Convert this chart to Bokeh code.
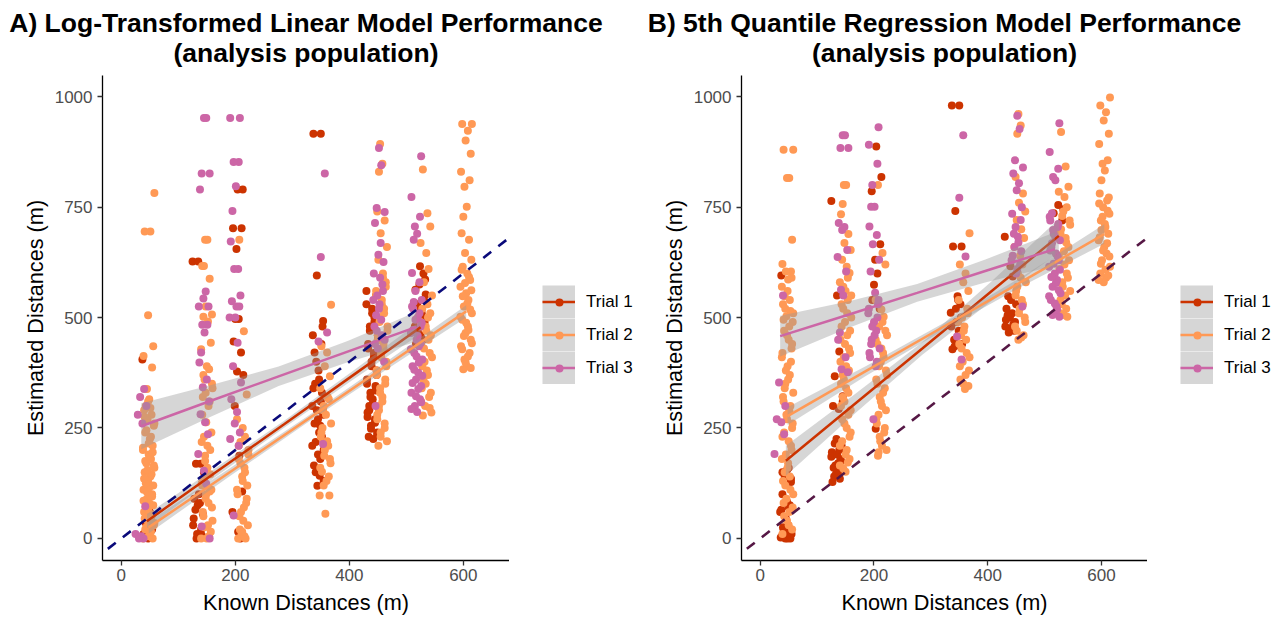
from bokeh.plotting import figure
from bokeh.models import Legend, LegendItem, Slope, Range1d
from bokeh.core.properties import value
from bokeh.layouts import row, column
from bokeh.embed import file_html
from bokeh.resources import INLINE

FONT = "Liberation Sans"
NAN = float("nan")
TRIALS = ["Trial 1", "Trial 2", "Trial 3"]
COLORS = ["#CC3300", "#FF9955", "#CC66A6"]
X_TICKS = [0, 200, 400, 600]
Y_TICKS = [0, 250, 500, 750, 1000]

# known distances (m) at which each trial was measured
KNOWN_T1 = [45, 135, 205, 345, 440, 525]
KNOWN_T2 = [48, 150, 213, 358, 457, 535, 605]
KNOWN_T3 = [35, 145, 200, 352, 452, 518]

# ---------------- Panel A: estimated distances (one list per known distance)
A_T1 = [
    [405, 60, 35, 20, 10, 0],
    [627, 627, 169, 169, 150, 90, 80, 75, 55, 30, 7, 0, 100, 65, 45, 20, 10],
    [790, 790, 702, 702, 655, 497, 497, 446, 421, 378, 370, 300, 187, 106, 60, 15, 0],
    [916, 916, 595, 492, 421, 360, 330, 300, 270, 255, 218, 200, 165, 142, 119,
     480, 460, 440, 400, 380, 350, 340, 310, 290, 280, 260, 240, 230, 210, 190, 180, 150, 130],
    [560, 520, 500, 480, 460, 440, 420, 400, 380, 360, 345, 330, 315, 300, 285, 270, 255, 240, 230, 225,
     550, 530, 510, 490, 470, 450, 430, 410, 390, 370, 350, 335, 320, 305, 290, 275, 262, 248, 235],
    [616, 586, 563, 540, 520, 500, 470, 440, 600, 575, 552, 530, 510, 490, 480, 460, 450],
]
A_T2 = [
    [782, 695, 695, 505, 435, 413, 387, 338, 315, 300, 290, 280, 270, 255, 240, 225, 210, 200, 190,
     180, 170, 160, 150, 140, 130, 120, 110, 100, 90, 80, 70, 60, 50, 40, 30, 20, 10, 0, 0,
     5, 15, 25, 35, 45, 55, 65, 75, 85, 95, 105, 115, 125, 135, 145, 155, 165, 175, 185, 195,
     205, 215, 230, 245, 260, 275, 295, 310],
    [676, 676, 617, 617, 588, 525, 507, 502, 491, 443, 428, 390, 383, 360, 340, 320, 300, 263, 240,
     218, 200, 187, 160, 135, 120, 106, 90, 70, 50, 30, 15, 0, 0,
     5, 25, 40, 60, 80, 100, 110, 125, 145, 175, 210, 230, 280, 310, 330, 350, 370],
    [676, 469, 326, 270, 250, 230, 218, 200, 180, 160, 140, 120, 100, 80, 60, 40, 20, 0, 0,
     10, 30, 50, 70, 90, 110, 130, 150, 170, 190, 210, 5, 15],
    [529, 435, 421, 390, 367, 340, 315, 300, 280, 250, 230, 210, 187, 170, 151, 130, 97, 97, 56,
     320, 290, 260, 240, 220, 200, 180, 160, 140, 120],
    [893, 848, 830, 740, 720, 691, 660, 631, 600, 580, 560, 540, 520, 500, 480, 460, 440, 420, 400,
     380, 360, 340, 320, 300, 280, 260, 240, 220, 210,
     590, 570, 550, 530, 510, 490, 470, 450, 430, 410, 390, 370, 350, 330, 310, 290, 270, 250, 230],
    [835, 736, 706, 669, 646, 610, 580, 550, 520, 500, 480, 460, 440, 420, 400, 380, 360, 340, 320,
     300, 285, 278, 530, 510, 490, 470, 450, 430, 410, 390, 370, 350, 330, 310, 295],
    [938, 938, 923, 901, 871, 830, 811, 796, 751, 728, 691, 676, 646, 631, 615, 600, 585, 570, 555,
     540, 525, 510, 495, 480, 465, 450, 435, 420, 405, 390, 383,
     608, 592, 578, 562, 548, 532, 518, 502, 488, 472, 458, 442, 428, 412, 398, 386],
]
A_T3 = [
    [338, 320, 300, 280, 260, 73, 10, 5, 0, 0],
    [952, 952, 826, 826, 790, 559, 543, 525, 525, 484, 484, 466, 421, 398, 360, 342, 310, 281, 263,
     236, 191, 153, 124, 27, 0],
    [952, 952, 852, 852, 797, 741, 672, 610, 610, 550, 537, 525, 525, 500, 500, 443, 390, 353, 315,
     286, 260, 240, 225, 210, 52],
    [826, 637, 466, 446, 214],
    [884, 845, 748, 739, 714, 669, 642, 626, 600, 575, 550, 530, 505, 480, 460, 430, 400, 300,
     590, 560, 540, 520, 495, 470, 450, 440],
    [865, 773, 728, 706, 690, 676, 601, 580, 560, 540, 520, 500, 480, 465, 450, 435, 420, 405, 390,
     375, 360, 345, 330, 315, 300, 286,
     535, 525, 510, 495, 488, 472, 458, 442, 428, 412, 398, 382, 368, 352, 338, 322, 308, 293],
]

# ---------------- Panel B
B_T1 = [
    [595, 160, 140, 128, 100, 83, 75, 60, 45, 30, 20, 10, 5, 0, 0, 0,
     2, 8, 12, 18, 25, 65, 70, 80, 135, 150, 155],
    [764, 550, 423, 367, 322, 300, 293, 225, 210, 195, 180, 165, 150, 140, 128,
     135, 145, 155, 160, 170, 175, 185, 190, 200, 215, 310],
    [887, 818, 786, 666, 631, 600, 574, 540, 520, 248],
    [980, 980, 741, 661, 661, 548, 530, 511, 490, 470, 450, 440, 428, 540, 520, 500, 480, 460, 435],
    [683, 616, 593, 548, 530, 520, 510, 500, 490, 480, 470, 466, 540, 505, 495, 485, 475],
    [755, 745, 736, 720, 700],
]
B_T2 = [
    [880, 880, 816, 816, 676, 621, 604, 604, 586, 548, 530, 515, 503, 490, 470, 450, 430, 410, 390,
     370, 350, 330, 310, 290, 270, 250, 230, 210, 190, 170, 150, 130, 110, 90, 70, 50, 30,
     590, 570, 560, 540, 520, 510, 495, 480, 460, 440, 420, 400, 380, 360, 340, 320, 300, 280,
     260, 240, 220, 200, 180, 160, 140, 120, 100, 80, 60, 40, 20, 10],
    [800, 800, 757, 734, 689, 669, 653, 631, 615, 601, 580, 560, 540, 520, 500, 480, 460, 440, 420,
     400, 380, 360, 340, 320, 300, 280, 260, 240, 220, 200, 180, 165, 151,
     590, 570, 550, 530, 510, 490, 470, 450, 430, 410, 390, 370, 350, 330, 310, 290, 270, 250,
     230, 210, 190, 172, 158],
    [800, 646, 620, 540, 518, 502, 480, 460, 440, 420, 400, 380, 360, 340, 320, 300, 280, 260, 240,
     220, 200, 187, 490, 470, 450, 430, 410, 390, 370, 350, 330, 310, 290, 270, 250, 230, 210, 195],
    [691, 620, 600, 580, 560, 540, 520, 500, 480, 460, 440, 420, 400, 380, 360, 338,
     510, 490, 470, 450, 430, 410, 390, 370, 350, 345],
    [961, 935, 916, 818, 781, 760, 740, 721, 700, 680, 660, 640, 620, 600, 580, 560, 540, 520, 500,
     480, 460, 450, 590, 570, 550, 530, 510, 490, 470, 455],
    [920, 842, 796, 785, 773, 750, 730, 710, 690, 670, 650, 630, 610, 590, 570, 550, 530, 510, 502,
     740, 720, 700, 680, 660, 640, 620, 600, 580, 560, 540, 520, 506],
    [998, 980, 965, 946, 916, 893, 856, 848, 833, 811, 781, 765, 750, 735, 720, 705, 690, 675, 660,
     645, 630, 615, 600, 590, 580, 772, 758, 742, 728, 712, 698, 682, 668, 652, 638, 622, 608, 595, 585],
]
B_T3 = [
    [550, 353, 300, 270, 263, 236, 191],
    [913, 913, 884, 884, 714, 705, 698, 653, 637, 604, 563, 550, 466, 450, 410, 383, 376],
    [931, 891, 848, 800, 751, 751, 706, 687, 666, 631, 604, 556, 530, 510, 490, 470, 450, 430, 410,
     390, 270, 540, 520, 500, 480, 460, 440, 420, 400],
    [913, 771, 638, 457, 405],
    [957, 927, 856, 840, 826, 804, 788, 750, 735, 721, 705, 683, 660, 640, 620, 600, 525,
     690, 670, 650, 630, 610],
    [940, 875, 837, 818, 811, 736, 720, 705, 690, 675, 660, 645, 630, 615, 600, 585, 570, 555, 540,
     525, 510, 502, 728, 712, 698, 682, 668, 652, 638, 622, 608, 592, 578, 562, 548, 532, 518, 506],
]

# ---------------- fitted lines with confidence band half-widths
FIT_X_T1 = [45, 165, 285, 405, 525]
FIT_X_T2 = [48, 187, 326, 466, 605]
FIT_X_T3 = [35, 156, 276, 397, 518]
A_FIT_T1 = [39, 149, 258, 368, 478]
A_SE_T1 = [16, 10, 8, 10, 15]
A_FIT_T2 = [25, 147, 269, 392, 514]
A_SE_T2 = [14, 9, 7, 9, 14]
A_FIT_T3 = [254, 311, 367, 423, 479]
A_SE_T3 = [52, 36, 22, 24, 34]
B_FIT_T1 = [176, 303, 430, 558, 685]
B_SE_T1 = [34, 22, 14, 22, 38]
B_FIT_T2 = [277, 380, 482, 586, 689]
B_SE_T2 = [20, 11, 8, 11, 22]
B_FIT_T3 = [458, 507, 556, 606, 655]
B_SE_T3 = [46, 30, 20, 26, 38]

# horizontal jitter offsets (m), cycled through
JITTER = [-8, 5, -2, 9, -6, 2, 7, -10, 0, 4, -4, 10, -7, 3, -1, 8, -9, 6, -3, 1, -5]

TITLE_H = 75          # height of the title strip (px)
PANEL_H = 542         # height of each panel (px)
FRAME_W_A, FRAME_W_B = 407, 406


def points(known, cols, t):
    xs, ys = [], []
    for c, (k, vals) in enumerate(zip(known, cols)):
        for j, v in enumerate(vals):
            xs.append(k + JITTER[(j + 7 * c + 11 * t) % len(JITTER)])
            ys.append(v)
    return xs, ys


def title_fig(lines, width, left, frame_w):
    # a strip measured in screen pixels (y grows downward) holding the two title lines,
    # centred over the plotting area of the panel below it
    tf = figure(width=width, height=TITLE_H, output_backend="svg", toolbar_location=None,
                title=None, x_axis_location=None, y_axis_location=None,
                x_range=Range1d(0, width), y_range=Range1d(TITLE_H, 0), min_border=0)
    tf.xgrid.visible = False
    tf.ygrid.visible = False
    tf.outline_line_color = None
    cx = left + frame_w / 2
    tf.text(x=[cx, cx], y=[22, 52], text=lines, text_font=value(FONT),
            text_font_size="26.5px", text_font_style="bold", text_color="black",
            text_align="center", text_baseline="middle")
    return tf


def panel(data, fits, abline_color, width, left):
    p = figure(width=width, height=PANEL_H, output_backend="svg", toolbar_location=None,
               x_range=Range1d(-33, 681), y_range=Range1d(-50, 1048), title=None,
               min_border_left=left, min_border_right=0, min_border_top=0,
               min_border_bottom=55)
    p.outline_line_color = None
    p.xgrid.visible = False
    p.ygrid.visible = False

    knowns = [KNOWN_T1, KNOWN_T2, KNOWN_T3]
    for t in range(3):
        xs, ys = points(knowns[t], data[t], t)
        p.scatter(xs, ys, size=8, color=COLORS[t], line_color=None)
    for t in range(3):
        fx, fy, se = fits[t]
        lo = [y - s for y, s in zip(fy, se)]
        hi = [y + s for y, s in zip(fy, se)]
        p.varea(x=fx, y1=lo, y2=hi, fill_color="#999999", fill_alpha=0.4)
        p.line(fx, fy, line_color=COLORS[t], line_width=2.5)
    p.add_layout(Slope(gradient=1, y_intercept=0, line_color=abline_color,
                       line_dash="10 9", line_width=2.6))

    for ax in (p.xaxis, p.yaxis):
        ax.axis_line_color = "black"
        ax.axis_line_width = 1.3
        ax.major_tick_line_color = "#333333"
        ax.major_tick_line_width = 1.3
        ax.major_tick_out = 5
        ax.major_tick_in = 0
        ax.minor_tick_line_color = None
        ax.major_label_text_font = FONT
        ax.major_label_text_font_size = "17px"
        ax.major_label_text_color = "#4D4D4D"
        ax.axis_label_text_font = FONT
        ax.axis_label_text_font_size = "21.7px"
        ax.axis_label_text_font_style = "normal"
        ax.axis_label_text_color = "black"
    p.xaxis.ticker = X_TICKS
    p.yaxis.ticker = Y_TICKS
    p.xaxis.axis_label = "Known Distances (m)"
    p.yaxis.axis_label = "Estimated Distances (m)"
    p.xaxis.major_label_standoff = 3
    p.yaxis.major_label_standoff = 5
    p.xaxis.axis_label_standoff = 6
    p.yaxis.axis_label_standoff = 4
    return p


def legend_fig(width):
    lf = figure(width=width, height=PANEL_H, output_backend="svg", toolbar_location=None,
                title=None, x_axis_location=None, y_axis_location=None,
                x_range=Range1d(0, 1), y_range=Range1d(0, 1), min_border=0)
    lf.xgrid.visible = False
    lf.ygrid.visible = False
    lf.outline_line_color = None
    # grey key background (ggplot draws the ribbon fill behind each key)
    keybg = lf.line([NAN], [NAN], line_color="#D6D6D6", line_width=33)
    key_items, dot_items = [], []
    for t in range(3):
        ln = lf.line([NAN], [NAN], line_color=COLORS[t], line_width=2.5)
        dot = lf.scatter([NAN], [NAN], color=COLORS[t], line_color=None)
        key_items.append(LegendItem(label=TRIALS[t], renderers=[keybg, ln]))
        dot_items.append(LegendItem(label=" ", renderers=[dot]))
    common = dict(padding=0, margin=0, border_line_color=None, background_fill_alpha=0)
    leg1 = Legend(items=key_items, location=(33, 176), glyph_width=33, glyph_height=33,
                  spacing=0, label_standoff=11, label_text_font=FONT,
                  label_text_font_size="17px", label_text_color="black", **common)
    leg2 = Legend(items=dot_items, location=(39.5, 182.5), glyph_width=20, glyph_height=20,
                  spacing=13, label_standoff=0, label_text_font_size="1px", **common)
    lf.add_layout(leg1)
    lf.add_layout(leg2)
    return lf


tA = title_fig(["A) Log-Transformed Linear Model Performance", "(analysis population)"],
               640, 102, FRAME_W_A)
tB = title_fig(["B) 5th Quantile Regression Model Performance", "(analysis population)"],
               641, 101, FRAME_W_B)
pA = panel([A_T1, A_T2, A_T3],
           [(FIT_X_T1, A_FIT_T1, A_SE_T1), (FIT_X_T2, A_FIT_T2, A_SE_T2),
            (FIT_X_T3, A_FIT_T3, A_SE_T3)],
           "#0A0A7A", 102 + FRAME_W_A, 102)
pB = panel([B_T1, B_T2, B_T3],
           [(FIT_X_T1, B_FIT_T1, B_SE_T1), (FIT_X_T2, B_FIT_T2, B_SE_T2),
            (FIT_X_T3, B_FIT_T3, B_SE_T3)],
           "#561845", 101 + FRAME_W_B, 101)

layout = column(row(tA, tB), row(pA, legend_fig(131), pB, legend_fig(134)))
open("out.html", "w").write(file_html(layout, INLINE))
